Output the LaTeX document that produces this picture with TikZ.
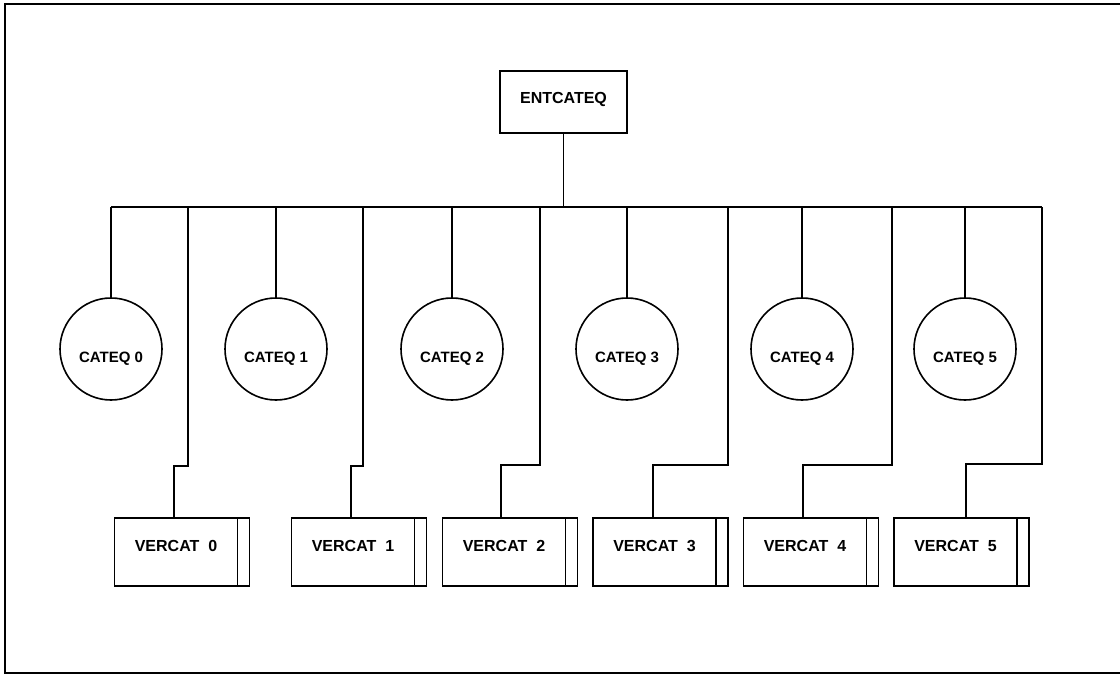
\documentclass[tikz,border=0pt]{standalone}
\usepackage{fontspec}
\setmainfont{Liberation Sans}
\usepackage{tikz}
\usetikzlibrary{positioning, calc}

\begin{document}
\begin{tikzpicture}[
    x=1pt, y=-1pt,
    % 1. Estilo base para todo el texto
    base/.style={
        draw, line width=1.6pt, inner sep=0pt,
        font=\fontsize{16}{19}\selectfont\bfseries
    },
    % 2. Cajas y circulos
    entbox/.style={base, rectangle, minimum width=127pt, minimum height=62pt,
        text height=12pt, text depth=10pt},
    cateq/.style={base, circle, minimum size=102pt,
        font=\fontsize{15}{18}\selectfont\bfseries,
        text height=26pt, text depth=0pt},
    vercat/.style={base, rectangle, minimum width=135pt, minimum height=68pt,
        text height=12pt, text depth=14pt,
        execute at end node={\hspace*{12pt}},
        path picture={
            \draw[line width=1.3pt]
                ([xshift=-12pt]path picture bounding box.north east) --
                ([xshift=-12pt]path picture bounding box.south east);
        }
    },
    % 3. Conectores
    wire/.style={line width=1.6pt},
    pageline/.style={line width=2pt}
]
    \useasboundingbox (0,0) rectangle (1120,677);

    % --- MARCO ---
    \draw[pageline] (1120,4) -- (5,4) -- (5,673) -- (1120,673);

    % --- RAIZ ---
    \node[entbox] (root) at (563.5,102) {ENTCATEQ};

    \coordinate (busL) at (111,207);
    \coordinate (busR) at (1042,207);
    \draw[wire] (busL) -- (busR);
    \draw[wire] (root) -- (root |- busL);

    % --- CATEQ ---
    \node[cateq] (cat0) at (111,349) {CATEQ 0};
    \node[cateq] (cat1) at (276,349) {CATEQ 1};
    \node[cateq] (cat2) at (452,349) {CATEQ 2};
    \node[cateq] (cat3) at (627,349) {CATEQ 3};
    \node[cateq] (cat4) at (802,349) {CATEQ 4};
    \node[cateq] (cat5) at (965,349) {CATEQ 5};

    \draw[wire] (cat0 |- busL) -- (cat0);
    \draw[wire] (cat1 |- busL) -- (cat1);
    \draw[wire] (cat2 |- busL) -- (cat2);
    \draw[wire] (cat3 |- busL) -- (cat3);
    \draw[wire] (cat4 |- busL) -- (cat4);
    \draw[wire] (cat5 |- busL) -- (cat5);

    % --- VERCAT ---
    \node[vercat] (ver0) at (182,552) {VERCAT~~0};
    \node[vercat] (ver1) at (359,552) {VERCAT~~1};
    \node[vercat] (ver2) at (510,552) {VERCAT~~2};
    \node[vercat] (ver3) at (660.5,552) {VERCAT~~3};
    \node[vercat] (ver4) at (811,552) {VERCAT~~4};
    \node[vercat] (ver5) at (961.5,552) {VERCAT~~5};

    \coordinate (tap0) at (188,207);
    \coordinate (tap1) at (363,207);
    \coordinate (tap2) at (540,207);
    \coordinate (tap3) at (728,207);
    \coordinate (tap4) at (892,207);
    \coordinate (tap5) at (1042,207);

    \draw[wire] (tap0) -- ++(0,259) -| ([xshift=-8pt]ver0.north);
    \draw[wire] (tap1) -- ++(0,259) -| ([xshift=-8pt]ver1.north);
    \draw[wire] (tap2) -- ++(0,258) -| ([xshift=-9pt]ver2.north);
    \draw[wire] (tap3) -- ++(0,258) -| ([xshift=-7.5pt]ver3.north);
    \draw[wire] (tap4) -- ++(0,258) -| ([xshift=-8pt]ver4.north);
    \draw[wire] (tap5) -- ++(0,257) -| ([xshift=4.5pt]ver5.north);

\end{tikzpicture}
\end{document}
